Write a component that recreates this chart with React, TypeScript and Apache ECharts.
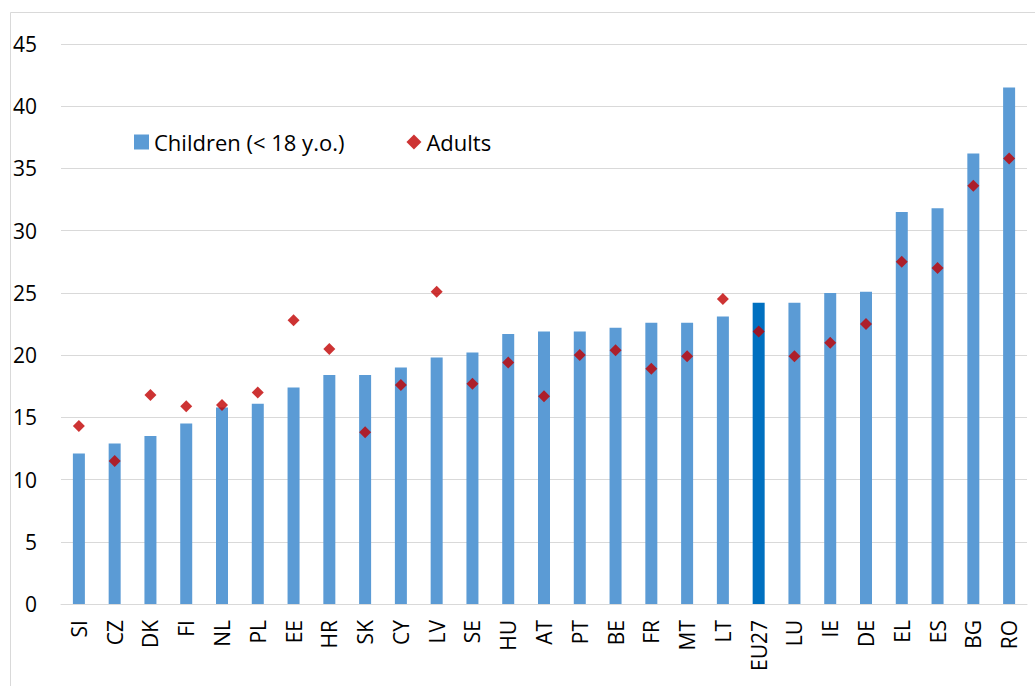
import React, { useEffect, useRef } from "react";
import * as echarts from "echarts";

const categories = ["SI","CZ","DK","FI","NL","PL","EE","HR","SK","CY","LV","SE","HU","AT","PT","BE","FR","MT","LT","EU27","LU","IE","DE","EL","ES","BG","RO"];
const children = [12.1,12.9,13.5,14.5,15.8,16.1,17.4,18.4,18.4,19.0,19.8,20.2,21.7,21.9,21.9,22.2,22.6,22.6,23.1,24.2,24.2,25.0,25.1,31.5,31.8,36.2,41.5];
const adults = [14.3,11.5,16.8,15.9,16.0,17.0,22.8,20.5,13.8,17.6,25.1,17.7,19.4,16.7,20.0,20.4,18.9,19.9,24.5,21.9,19.9,21.0,22.5,27.5,27.0,33.6,35.8];
const highlight = "EU27";

const FONT = "'Open Sans', sans-serif";

export default function App() {
  const ref = useRef<HTMLDivElement>(null);
  useEffect(() => {
    document.body.style.margin = "0";
    const chart = echarts.init(ref.current!, null, { renderer: "svg" });
    chart.setOption({
      animation: false,
      backgroundColor: "#fff",
      textStyle: { fontFamily: FONT },
      graphic: [
        {
          type: "rect",
          shape: { x: 10.5, y: 12.5, width: 1040, height: 700 },
          style: { fill: "none", stroke: "#D9D9D9", lineWidth: 1 },
          silent: true,
        },
      ],
      legend: {
        left: 129,
        top: 126,
        itemGap: 62,
        itemWidth: 15,
        itemHeight: 15,
        itemStyle: { borderWidth: 0 },
        textStyle: { fontSize: 22, color: "#000", fontFamily: FONT },
        data: [
          { name: "Children (< 18 y.o.)", icon: "rect" },
          { name: "Adults", icon: "diamond" },
        ],
      },
      grid: { left: 61, right: 8, top: 44, bottom: 82 },
      xAxis: {
        type: "category",
        data: categories,
        axisLine: { lineStyle: { color: "#D9D9D9" } },
        axisTick: { show: false },
        axisLabel: {
          rotate: 90,
          fontSize: 21,
          color: "#000",
          margin: 16,
          interval: 0,
          fontFamily: FONT,
        },
      },
      yAxis: {
        type: "value",
        min: 0,
        max: 45,
        interval: 5,
        axisLine: { show: false },
        axisTick: { show: false },
        splitLine: { lineStyle: { color: "#D9D9D9" } },
        axisLabel: { fontSize: 21, color: "#000", margin: 24, fontFamily: FONT },
      },
      series: [
        {
          name: "Children (< 18 y.o.)",
          type: "bar",
          barWidth: 12,
          itemStyle: { color: "#5B9BD5" },
          data: children.map((v, i) =>
            categories[i] === highlight ? { value: v, itemStyle: { color: "#0070C0" } } : v
          ),
        },
        {
          name: "Adults",
          type: "scatter",
          symbol: "diamond",
          symbolSize: 12,
          itemStyle: { color: "#C00000" },
          data: adults,
        },
      ],
    });
    return () => chart.dispose();
  }, []);
  return <div ref={ref} style={{ width: 1035, height: 686 }} />;
}
